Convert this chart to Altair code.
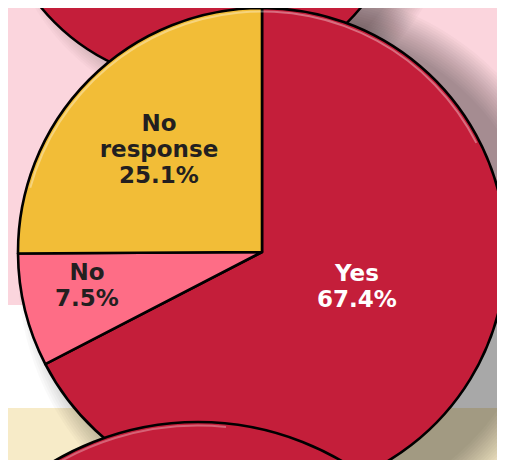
import math
import altair as alt
import pandas as pd

# ---- data ----
categories = ["Yes", "No", "No response"]
percent = [67.4, 7.5, 25.1]
label_text = ["Yes\n67.4%", "No\n7.5%", "No\nresponse\n25.1%"]
slice_colors = ["#C41E3A", "#FE6D86", "#F2BD37"]

# ---- layout (page pixel coordinates) ----
W, H = 489, 452
OX, OY = 8, 8


def px(x):
    return x - OX


def py(y):
    return y - OY


PIE_C, PIE_R = (262, 252), 244
TOP_C, TOP_R = (201, -124), 207
BOT_C, BOT_R = (198, 706), 284
# anchor = centre of the first line of each label
label_xy = {"Yes": (357, 274), "No": (87, 273), "No response": (159, 124)}
PINK_BG, WHITE_BG, BEIGE_BG = "#FBD5DD", "#FFFFFF", "#F7EBC8"
CRIMSON = "#C41E3A"
TWO_PI = 2 * math.pi

dummy = alt.Data(values=[{"a": 1}])


def band(y0, y1, c):
    return alt.Chart(dummy).mark_rect(color=c).encode(
        x=alt.value(0), x2=alt.value(W), y=alt.value(py(y0)), y2=alt.value(py(y1))
    )


def disc(c, r, fill, opacity=1.0, stroke=None, sw=0):
    kw = dict(theta=0, theta2=TWO_PI, radius=r, fill=fill, fillOpacity=opacity)
    if stroke:
        kw.update(stroke=stroke, strokeWidth=sw)
    return alt.Chart(dummy).mark_arc(**kw).encode(
        x=alt.value(px(c[0])), y=alt.value(py(c[1]))
    )


def rim(c, r_out, r_in, t0, t1, color, opacity):
    return alt.Chart(dummy).mark_arc(
        theta=t0, theta2=t1, radius=r_out, radius2=r_in, fill=color, fillOpacity=opacity
    ).encode(x=alt.value(px(c[0])), y=alt.value(py(c[1])))


def shadow(c, r, dx, dy, grow, spread=18, n=16, a=0.022):
    out = []
    for i in range(n):
        rr = r + grow - spread + 2 * spread * i / (n - 1)
        out.append(disc((c[0] + dx, c[1] + dy), rr, "black", a))
    return out


layers = [band(0, 305, PINK_BG), band(305, 408, WHITE_BG)]
layers += shadow(PIE_C, PIE_R, dx=36, dy=18, grow=18)
layers += shadow(TOP_C, TOP_R, dx=28, dy=14, grow=4, spread=16, a=0.02)
layers.append(disc(TOP_C, TOP_R, CRIMSON, 1.0, "black", 2.5))

pie_df = pd.DataFrame({
    "category": categories,
    "percent": percent,
    "order": list(range(len(categories))),
    "label": label_text,
})

pie = alt.Chart(pie_df).mark_arc(
    radius=PIE_R, stroke="black", strokeWidth=2.6, strokeJoin="round"
).encode(
    theta=alt.Theta("percent:Q", stack=True),
    order=alt.Order("order:Q"),
    color=alt.Color("category:N", scale=alt.Scale(domain=categories, range=slice_colors), legend=None),
    x=alt.value(px(PIE_C[0])),
    y=alt.value(py(PIE_C[1])),
)
layers.append(pie)
# subtle bevel highlight along the upper rim
layers.append(rim(PIE_C, PIE_R - 2.5, PIE_R - 4.5, TWO_PI - 1.3, TWO_PI + 1.1, "white", 0.35))

lab_df = pie_df.assign(
    lx=[px(label_xy[c][0]) for c in categories],
    ly=[py(label_xy[c][1]) for c in categories],
)
text = alt.Chart(lab_df).mark_text(
    font="DejaVu Sans", fontWeight="bold", fontSize=23, lineBreak="\n", lineHeight=26,
    align="center", baseline="middle"
).encode(
    x=alt.X("lx:Q", scale=None, axis=None),
    y=alt.Y("ly:Q", scale=None, axis=None),
    text="label:N",
    color=alt.condition(alt.datum.category == "Yes", alt.value("white"), alt.value("#231F20")),
)
layers.append(text)

layers.append(disc(BOT_C, BOT_R, CRIMSON, 1.0, "black", 2.6))
layers.append(rim(BOT_C, BOT_R - 2.5, BOT_R - 4.5, TWO_PI - 0.7, TWO_PI + 0.1, "white", 0.3))

chart = alt.layer(*layers).properties(
    width=W, height=H, padding=0,
    autosize=alt.AutoSizeParams(type="none"),
    background=BEIGE_BG,
).configure_view(stroke=None)

chart.save("out.html", embed_options={"renderer": "svg", "actions": False})
